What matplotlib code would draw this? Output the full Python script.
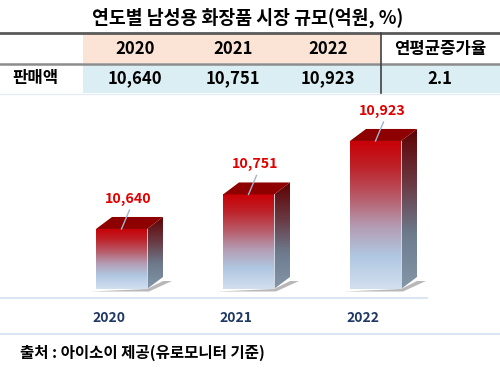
import numpy as np
import matplotlib.pyplot as plt
from matplotlib.patches import Polygon, Rectangle
from matplotlib.colors import LinearSegmentedColormap
from matplotlib.transforms import blended_transform_factory

plt.rcParams['font.family'] = ['Noto Sans CJK KR', 'DejaVu Sans']

title = '연도별 남성용 화장품 시장 규모(억원, %)'
years = ['2020', '2021', '2022']
sales = [10640, 10751, 10923]
row_label = '판매액'
cagr_label = '연평균증가율'
cagr = 2.1
source = '출처 : 아이소이 제공(유로모니터 기준)'

W, H = 500, 370
fig = plt.figure(figsize=(5, 3.7), dpi=100)

# pixel-space layer for table / text
bg = fig.add_axes([0, 0, 1, 1])
bg.set_xlim(0, W)
bg.set_ylim(H, 0)
bg.axis('off')

bg.text(248, 18, title, ha='center', va='center', fontsize=13.2, fontweight='bold')

# table
bg.add_patch(Rectangle((83, 34), 298, 29, color='#FBE4D5', lw=0))
bg.add_patch(Rectangle((83, 64), 417, 29, color='#DBEEF3', lw=0))
bg.plot([0, 500], [33, 33], color='#5a5a5a', lw=2)
bg.plot([0, 500], [63.5, 63.5], color='#8c8c8c', lw=1.8)
bg.plot([0, 500], [93.5, 93.5], color='#e3ebf3', lw=1)
bg.plot([381, 381], [33, 93], color='#404040', lw=1.2)

col_x = [135, 233, 328]
for cx, y, v in zip(col_x, years, sales):
    bg.text(cx, 49, y, ha='center', va='center', fontsize=12, fontweight='bold')
    bg.text(cx, 78.5, f'{v:,}', ha='center', va='center', fontsize=12, fontweight='bold')
bg.text(440, 49, cagr_label, ha='center', va='center', fontsize=12, fontweight='bold')
bg.text(440, 78.5, f'{cagr}', ha='center', va='center', fontsize=12, fontweight='bold')
bg.text(35, 78.5, row_label, ha='center', va='center', fontsize=12, fontweight='bold')

# axis lines
bg.plot([0, 427], [298, 298], color='#dce6f2', lw=1.5)
bg.plot([0, 500], [334, 334], color='#dce6f2', lw=1.5)
bg.text(20, 353, source, ha='left', va='center', fontsize=11.2, fontweight='bold')

# bar chart axes
base = 10447
ppu = 0.311                 # pixels per sales unit
ax = fig.add_axes([0, 1 - 289 / H, 1, (289 - 100) / H])
ax.set_xlim(-121.5 / 127, (500 - 121.5) / 127)
ax.set_ylim(base, base + 189 / ppu)
ax.axis('off')
ax.patch.set_alpha(0)

px = 1 / 127
py = 1 / ppu
width = 51 * px
dx, dy = 16 * px, 12 * py

front_cmap = LinearSegmentedColormap.from_list('front', [
    (0.0, '#d2dfef'), (0.22, '#b0c7e1'), (0.42, '#b49cb3'),
    (0.62, '#b85a68'), (0.82, '#be2229'), (1.0, '#c80006')])
side_cmap = LinearSegmentedColormap.from_list('side', [
    (0.0, '#8597aa'), (0.35, '#6c7a8c'), (0.65, '#6a3a44'), (1.0, '#5e0000')])
grad = np.linspace(0, 1, 256).reshape(-1, 1)

x = np.arange(len(years))
bars = ax.bar(x, [v - base for v in sales], bottom=base, width=width,
              color='none', lw=0)
trans = blended_transform_factory(ax.transData, bg.transData)

for xi, v, b, yr in zip(x, sales, bars, years):
    xl, xr = xi - width / 2, xi + width / 2
    # shadow
    sh = Polygon([(xl - 6 * px, base - 2.5 * py), (xr + 2 * px, base - 2.5 * py),
                  (xr + dx + 9 * px, base + 8 * py), (xr + dx, base + 8 * py),
                  (xr, base)],
                 closed=True, color='#8a8a8a', alpha=0.6, lw=0, clip_on=False)
    ax.add_patch(sh)
    # front face
    im = ax.imshow(grad, extent=(xl, xr, base, v), origin='lower',
                   cmap=front_cmap, aspect='auto', zorder=2)
    im.set_clip_path(b)
    # side face
    side = Polygon([(xr, base), (xr + dx, base + dy), (xr + dx, v + dy), (xr, v)],
                   closed=True, facecolor='none', lw=0)
    ax.add_patch(side)
    ims = ax.imshow(grad, extent=(xr, xr + dx, base, v + dy), origin='lower',
                    cmap=side_cmap, aspect='auto', zorder=2)
    ims.set_clip_path(side)
    # top face
    ax.add_patch(Polygon([(xl, v), (xr, v), (xr + dx, v + dy), (xl + dx, v + dy)],
                         closed=True, color='#8e0000', lw=0, zorder=3))
    ax.plot([xr, xr], [base, v], color='#dfe8f2', lw=0.6, zorder=3)
    # label with leader line
    ax.plot([xi, xi + 8 * px], [v, v + 19 * py], color='#9fb6cf', lw=1, zorder=4)
    ax.text(xi + 7 * px, v + 30 * py, f'{v:,}', ha='center', va='center',
            color='#e00000', fontsize=10.3, fontweight='bold')
    ax.text(xi - 13 * px, 318, yr, transform=trans, ha='center', va='center',
            color='#1f3864', fontsize=10, fontweight='bold')

ax.set_xlim(-121.5 / 127, (500 - 121.5) / 127)
ax.set_ylim(base, base + 189 / ppu)

fig.savefig('out.png', dpi=100)
